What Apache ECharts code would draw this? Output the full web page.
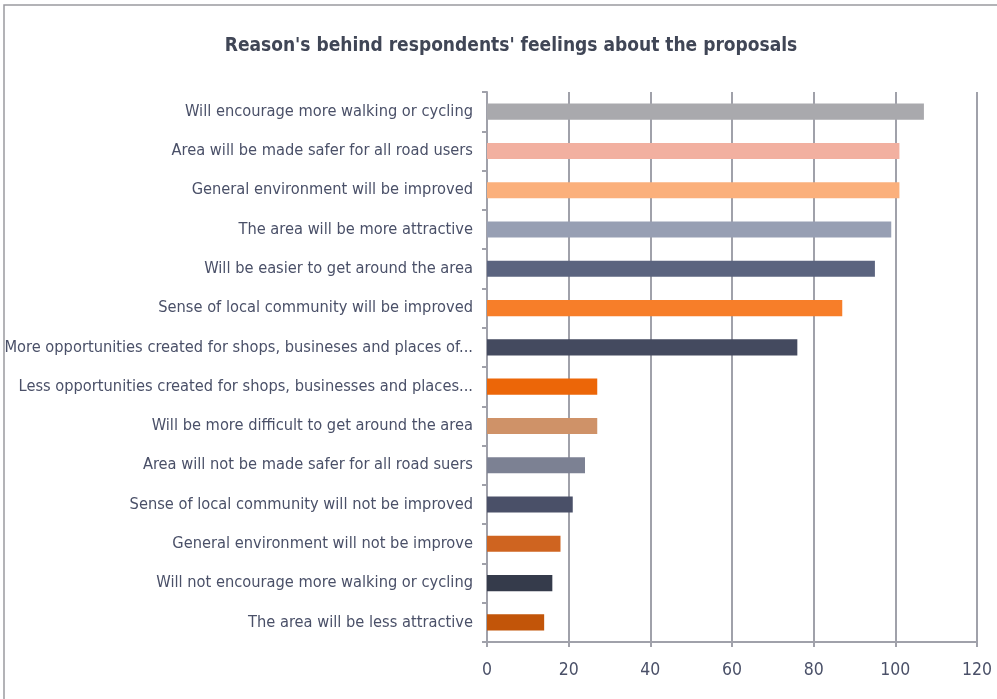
<!DOCTYPE html>
<html><head><meta charset="utf-8">
<script src="https://cdn.jsdelivr.net/npm/echarts@6/dist/echarts.min.js"></script>
<style>html,body{margin:0;padding:0;background:#fff}#c{width:997px;height:699px}</style>
</head><body><div id="c"></div>
<script>
var categories = [
  "Will encourage more walking or cycling",
  "Area will be made safer for all road users",
  "General environment will be improved",
  "The area will be more attractive",
  "Will be easier to get around the area",
  "Sense of local community will be improved",
  "More opportunities created for shops, busineses and places of...",
  "Less opportunities created for shops, businesses and places...",
  "Will be more difficult to get around the area",
  "Area will not be made safer for all road suers",
  "Sense of local community will not be improved",
  "General environment will not be improve",
  "Will not encourage more walking or cycling",
  "The area will be less attractive"
];
var values = [107, 101, 101, 99, 95, 87, 76, 27, 27, 24, 21, 18, 16, 14];
var colors = ["#A9A9AD","#F2B0A0","#FBB07C","#979FB3","#5B647F","#F77E29","#444A5F",
              "#EC6608","#CF9268","#7C8193","#4A5068","#CF6420","#353B4B","#C25509"];
var titleText = "Reason's behind respondents' feelings about the proposals";

var font = "'Liberation Sans Narrow','DejaVu Sans Condensed',sans-serif";
var chart = echarts.init(document.getElementById('c'), null, {renderer:'canvas'});
chart.setOption({
  animation:false,
  backgroundColor:'#fff',
  graphic:[{type:'rect',shape:{x:4,y:5,width:1000,height:710},style:{fill:'none',stroke:'#9a9aa0',lineWidth:1.5},silent:true}],
  title:{text:titleText,left:506,top:32,textAlign:'center',
    textStyle:{fontFamily:font,fontSize:19,fontWeight:'bold',color:'#404656'}},
  grid:{left:487,right:20,top:92,bottom:57,containLabel:false,outerBoundsMode:'none'},
  xAxis:{type:'value',min:0,max:120,interval:20,
    axisLine:{show:true,lineStyle:{color:'#A0A1AA',width:2}},
    axisTick:{show:true,length:5,lineStyle:{color:'#A0A1AA',width:2}},
    axisLabel:{margin:19,fontFamily:font,fontSize:17.5,color:'#4A5068'},
    splitLine:{show:true,lineStyle:{color:'#A0A1AA',width:2}}},
  yAxis:{type:'category',data:categories,inverse:true,
    axisLine:{show:true,lineStyle:{color:'#A0A1AA',width:2}},
    axisTick:{show:true,length:5,lineStyle:{color:'#A0A1AA',width:2}},
    axisLabel:{margin:14,fontFamily:font,fontSize:16.3,color:'#4A5068'}},
  series:[{type:'bar',barCategoryGap:'59%',
    data:values.map(function(v,i){return {value:v,itemStyle:{color:colors[i]}};})}]
});
</script></body></html>
